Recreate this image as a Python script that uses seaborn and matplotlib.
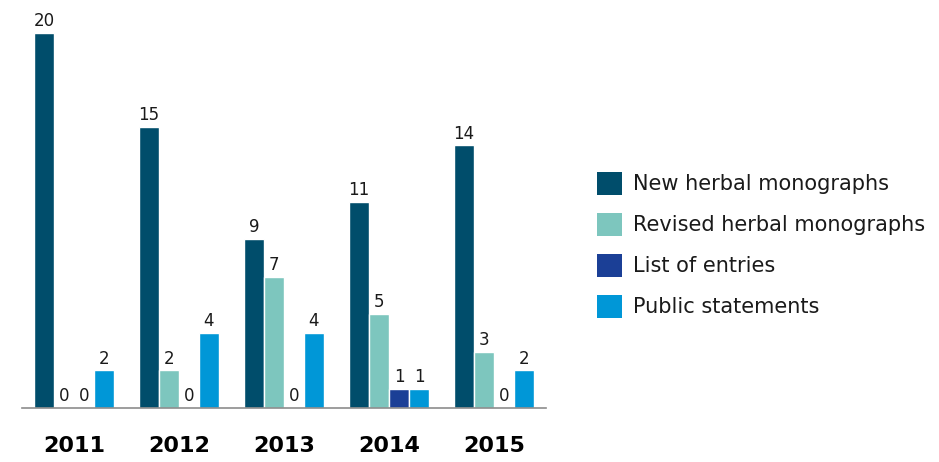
import pandas as pd
import matplotlib.pyplot as plt
import seaborn as sns
from matplotlib.patches import Patch

years = ["2011", "2012", "2013", "2014", "2015"]
new_monographs = [20, 15, 9, 11, 14]
revised_monographs = [0, 2, 7, 5, 3]
list_of_entries = [0, 0, 0, 1, 0]
public_statements = [2, 4, 4, 1, 2]

series_names = ["New herbal monographs", "Revised herbal monographs",
                "List of entries", "Public statements"]
series_values = [new_monographs, revised_monographs, list_of_entries, public_statements]
colors = ["#004d6b", "#7dc6be", "#1b3f96", "#0097d7"]

data = pd.DataFrame({
    "Year": years * len(series_names),
    "Type": [name for name in series_names for _ in years],
    "Count": [v for values in series_values for v in values],
})

sns.set_style("white")
plt.rcParams["font.family"] = ["DejaVu Sans"]

fig = plt.figure(figsize=(9.39, 4.62), dpi=100)
ax = fig.add_axes([0.023, 0.117, 0.559, 0.812])

sns.barplot(data=data, x="Year", y="Count", hue="Type", palette=colors, saturation=1,
            width=0.76, edgecolor="white", linewidth=1, legend=False, ax=ax)

for container in ax.containers:
    ax.bar_label(container, fmt="%d", padding=2, fontsize=12, color="#1a1a1a")

ax.set_ylim(0, 20)
ax.set_xlim(-0.5, 4.5)
ax.set_xlabel("")
ax.set_ylabel("")
ax.set_yticks([])
ax.tick_params(axis="x", length=0, pad=20, labelsize=16, labelcolor="black")
for label in ax.get_xticklabels():
    label.set_fontweight("bold")
for side in ["top", "left", "right"]:
    ax.spines[side].set_visible(False)
ax.spines["bottom"].set_color("#8c8c8c")
ax.spines["bottom"].set_linewidth(1.2)

handles = [Patch(facecolor=c, edgecolor="none") for c in colors]
fig.legend(handles, series_names, loc="center left", bbox_to_anchor=(0.616, 0.47),
           frameon=False, fontsize=15, handlelength=1.2, handleheight=1.3,
           handletextpad=0.5, labelspacing=0.88, labelcolor="#1a1a1a")

plt.savefig("out.png", dpi=100)
plt.close()
